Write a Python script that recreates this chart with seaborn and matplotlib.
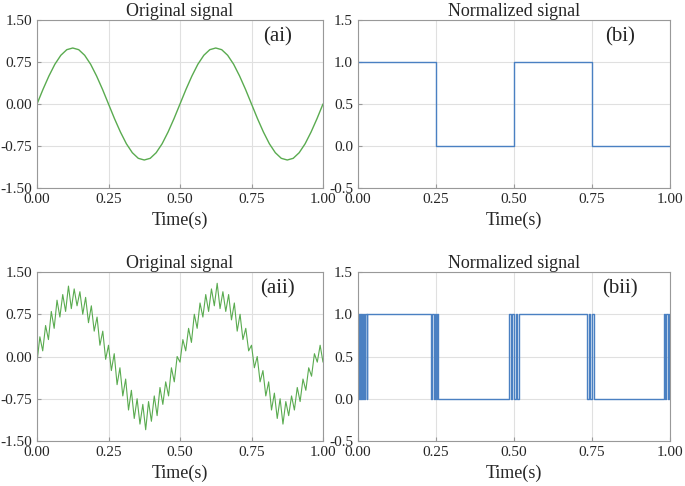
import matplotlib
matplotlib.use("Agg")
import matplotlib.pyplot as plt
import seaborn as sns

# clean sine, sampled every 1/48 s
t_clean = [k / 48 for k in range(49)]
quarter = [0, .26, .5, .71, .87, .97, 1.0, .97, .87, .71, .5, .26]
clean = (quarter + [-v for v in quarter]) * 2 + [0]

# noisy signal, sampled every 0.01 s
t_noisy = [k / 100 for k in range(101)]
noisy = [-0.1, 0.35, 0.1, 0.55, 0.3, 0.8, 0.5, 1.0, 0.7, 1.1, 0.8, 1.25, 0.85, 1.2, 0.9, 1.15, 0.75, 1.05, 0.6, 0.9, 0.45, 0.7, 0.2, 0.45, -0.05, 0.2,
         -0.25, 0.05, -0.5, -0.2, -0.7, -0.4, -0.95, -0.6, -1.1, -0.75, -1.2, -0.85, -1.3, -0.8, -1.15, -0.7, -1.05, -0.55, -0.85, -0.45, -0.7, -0.2, -0.45, 0.0, -0.1,
         0.3, 0.1, 0.5, 0.25, 0.75, 0.5, 0.95, 0.7, 1.1, 0.8, 1.2, 0.9, 1.3, 0.85, 1.15, 0.8, 1.1, 0.65, 0.95, 0.45, 0.75, 0.3, 0.5, 0.1, 0.2,
         -0.2, 0.0, -0.45, -0.25, -0.7, -0.45, -0.95, -0.65, -1.1, -0.75, -1.2, -0.8, -1.05, -0.7, -0.95, -0.55, -0.8, -0.4, -0.6, -0.2, -0.35, 0.05, -0.1, 0.2, -0.1]

# normalized clean: square wave
t_sq = [0, 0.25, 0.25, 0.5, 0.5, 0.75, 0.75, 1.0]
sq = [1, 1, 0, 0, 1, 1, 0, 0]

# normalized noisy: step signal with chatter near the zero crossings
t_sw = [0, 0.003, 0.006, 0.01, 0.014, 0.017, 0.02, 0.024, 0.028, 0.03, 0.235, 0.238, 0.242, 0.246, 0.249, 0.252, 0.256, 0.26,
        0.485, 0.49, 0.495, 0.5, 0.505, 0.51, 0.515, 0.52, 0.735, 0.74, 0.745, 0.75, 0.755, 0.76, 0.98, 0.984, 0.988, 0.992, 0.996, 1.0]
lv_sw = [0, 1, 0, 1, 0, 1, 0, 1, 0, 1, 0, 1, 0, 1, 0, 1, 0, 0,
         1, 0, 1, 0, 1, 0, 1, 1, 0, 1, 0, 1, 0, 0, 1, 0, 1, 0, 1, 0]

sns.set_style("whitegrid", {"axes.edgecolor": "0.6", "grid.color": "0.88",
                            "xtick.bottom": True, "ytick.left": True,
                            "xtick.direction": "in", "ytick.direction": "in"})
plt.rcParams["font.family"] = "Liberation Serif"
plt.rcParams["font.size"] = 12

fig = plt.figure(figsize=(6.85, 4.86), dpi=100)
W, H = 685, 486
boxes = [(37, 20, 323, 188), (358, 20, 670, 188), (37, 272, 323, 441), (358, 272, 670, 441)]
axs = [fig.add_axes([x0 / W, 1 - y1 / H, (x1 - x0) / W, (y1 - y0) / H]) for x0, y0, x1, y1 in boxes]

green, blue = "#5aab50", "#4a80c2"
sns.lineplot(x=t_clean, y=clean, ax=axs[0], color=green, lw=1)
axs[1].plot(t_sq, sq, color=blue, lw=1)
sns.lineplot(x=t_noisy, y=noisy, ax=axs[2], color=green, lw=0.8)
axs[3].step(t_sw, lv_sw, where="post", color=blue, lw=1)

labels = ["(ai)", "(bi)", "(aii)", "(bii)"]
for i, ax in enumerate(axs):
    ax.set_xlim(0, 1)
    ax.set_xticks([0, 0.25, 0.5, 0.75, 1.0])
    ax.set_xticklabels(["0.00", "0.25", "0.50", "0.75", "1.00"])
    if i % 2 == 0:
        ax.set_ylim(-1.5, 1.5)
        ax.set_yticks([-1.5, -0.75, 0, 0.75, 1.5])
        ax.set_yticklabels(["-1.50", "-0.75", "0.00", "0.75", "1.50"])
        ax.set_title("Original signal", fontsize=13, pad=2)
    else:
        ax.set_ylim(-0.5, 1.5)
        ax.set_yticks([-0.5, 0, 0.5, 1.0, 1.5])
        ax.set_yticklabels(["-0.5", "0.0", "0.5", "1.0", "1.5"])
        ax.set_title("Normalized signal", fontsize=13, pad=2)
    ax.set_xlabel("Time(s)", fontsize=13)
    ax.tick_params(labelsize=11, length=3, color="0.6")
    ax.text(0.84, 0.9, labels[i], transform=ax.transAxes, fontsize=15, ha="center", va="center")

fig.savefig("out.png", dpi=100)
